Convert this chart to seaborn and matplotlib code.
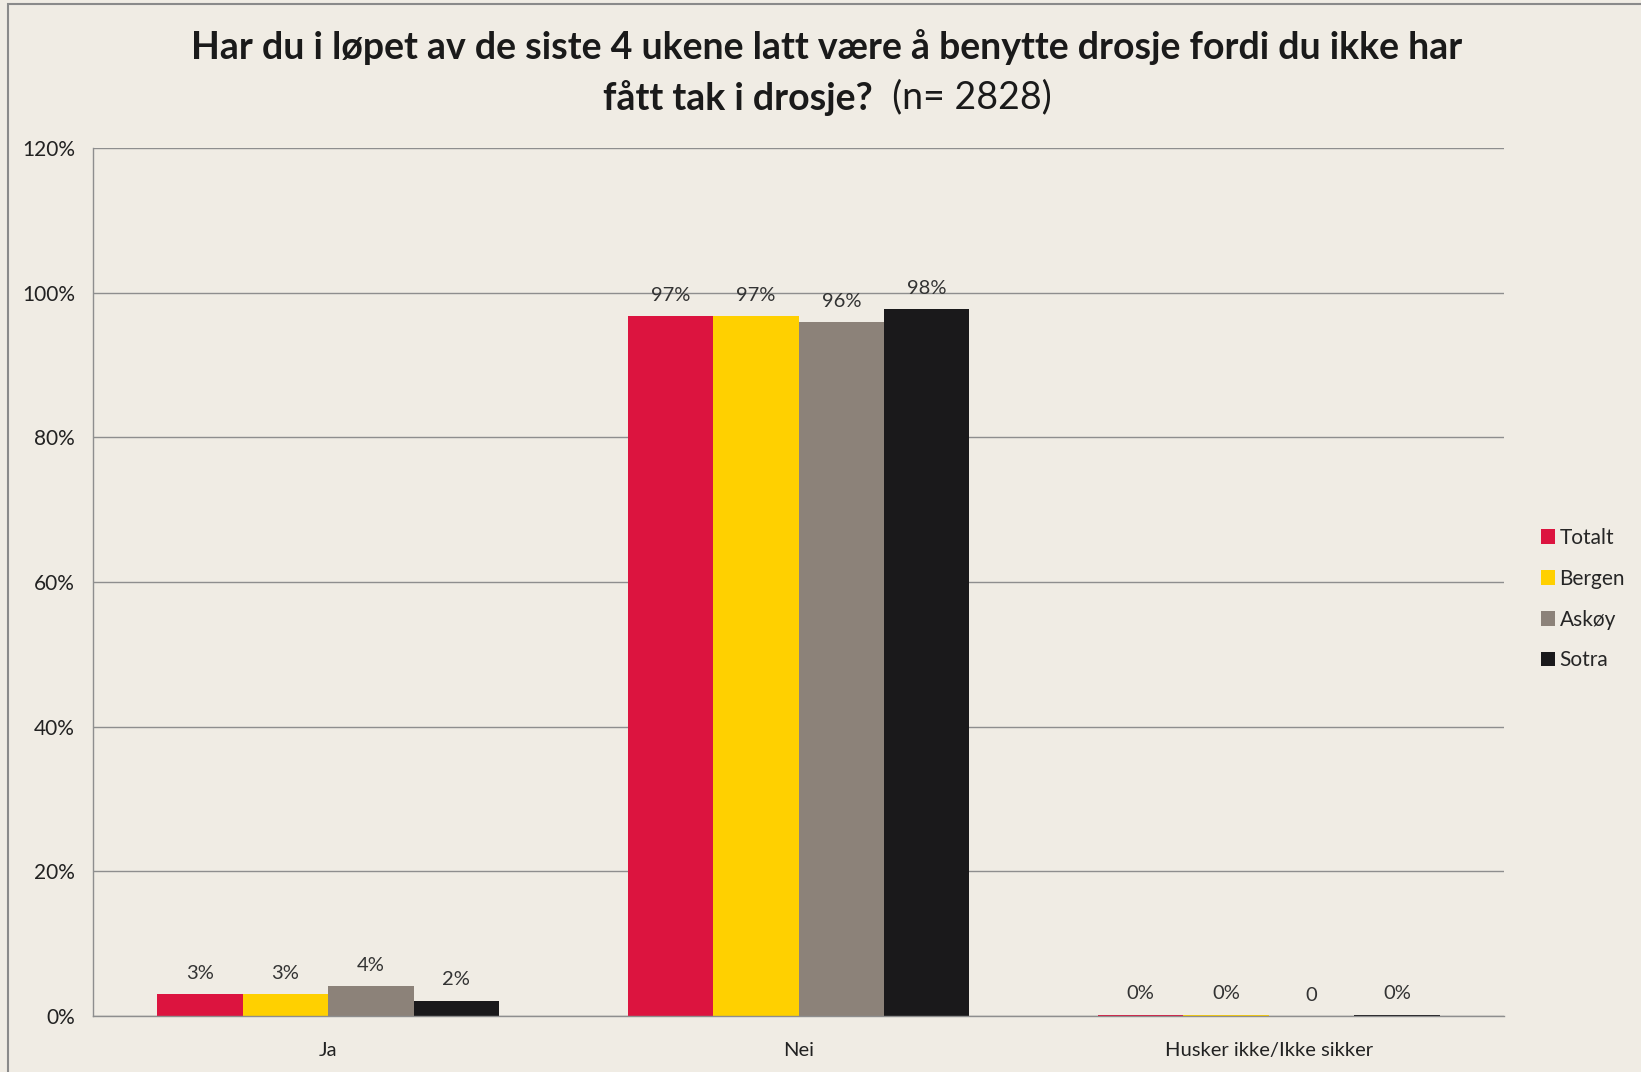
import matplotlib
matplotlib.use("Agg")
import matplotlib.pyplot as plt
import seaborn as sns
import pandas as pd
from matplotlib.patches import Rectangle

categories = ["Ja", "Nei", "Husker ikke/Ikke sikker"]
groups = ["Totalt", "Bergen", "Askøy", "Sotra"]
totalt = [3.0, 96.7, 0.2]
bergen = [3.0, 96.7, 0.15]
askoy = [4.1, 95.9, 0.0]
sotra = [2.1, 97.7, 0.2]
labels = {
    "Totalt": ["3%", "97%", "0%"],
    "Bergen": ["3%", "97%", "0%"],
    "Askøy": ["4%", "96%", "0"],
    "Sotra": ["2%", "98%", "0%"],
}
colors = ["#DC143F", "#FFD000", "#8C8279", "#1A191B"]
bg = "#F0ECE4"

rows = []
for g, vals in zip(groups, [totalt, bergen, askoy, sotra]):
    for c, v in zip(categories, vals):
        rows.append({"Kategori": c, "Gruppe": g, "Verdi": v})
df = pd.DataFrame(rows)

sns.set_theme(style="white")
plt.rcParams["font.family"] = ["Lato", "DejaVu Sans"]

fig = plt.figure(figsize=(16.41, 10.72), dpi=100, facecolor=bg)
ax = fig.add_axes([0.0567, 0.0522, 0.9165 - 0.0567, 0.862 - 0.0522])
ax.set_facecolor(bg)

sns.barplot(data=df, x="Kategori", y="Verdi", hue="Gruppe", order=categories,
            hue_order=groups, palette=colors, width=0.727, ax=ax,
            saturation=1, legend=True, edgecolor="none")

ax.set_ylim(0, 120)
ax.set_yticks(range(0, 121, 20))
ax.set_yticklabels([f"{t}%" for t in range(0, 121, 20)], fontsize=15, color="#222222")
ax.tick_params(axis="x", labelsize=14.5, colors="#222222", pad=19, length=0)
ax.tick_params(axis="y", pad=13, length=0)
ax.set_xlabel("")
ax.set_ylabel("")
ax.yaxis.grid(True, color="#8E8E8E", linewidth=1)
ax.set_axisbelow(True)
for s in ["top", "right"]:
    ax.spines[s].set_visible(False)
for s in ["left", "bottom"]:
    ax.spines[s].set_color("#8E8E8E")
    ax.spines[s].set_linewidth(1)

for cont, g in zip(ax.containers, groups):
    ax.bar_label(cont, labels=labels[g], padding=9, fontsize=14.5, color="#333333")

handles, lbls = ax.get_legend_handles_labels()
ax.legend(handles, lbls, loc="center left", bbox_to_anchor=(0.9275, 0.441),
          bbox_transform=fig.transFigure, frameon=False, fontsize=15,
          handlelength=0.7, handleheight=0.7, handletextpad=0.2, labelspacing=1.0)

# title
fig.text(0.504, 0.956, "Har du i løpet av de siste 4 ukene latt være å benytte drosje fordi du ikke har",
         ha="center", va="center", fontsize=27, fontweight="bold", color="#1A1A1A")
t1 = fig.text(0.5, 0.909, "fått tak i drosje?", ha="right", va="center", fontsize=27,
              fontweight="bold", color="#1A1A1A")
t2 = fig.text(0.5, 0.909, "  (n= 2828)", ha="left", va="center", fontsize=27,
              color="#1A1A1A")
fig.canvas.draw()
r = fig.canvas.get_renderer()
w1 = t1.get_window_extent(r).width / fig.bbox.width
w2 = t2.get_window_extent(r).width / fig.bbox.width
cx = 0.504 - (w1 + w2) / 2 + w1
t1.set_x(cx)
t2.set_x(cx)

fig.patches.append(Rectangle((0.005, -0.01), 1.2, 1.006, transform=fig.transFigure,
                             fill=False, edgecolor="#8A8A8A", linewidth=1.5))

fig.savefig("out.png", dpi=100, facecolor=bg)
